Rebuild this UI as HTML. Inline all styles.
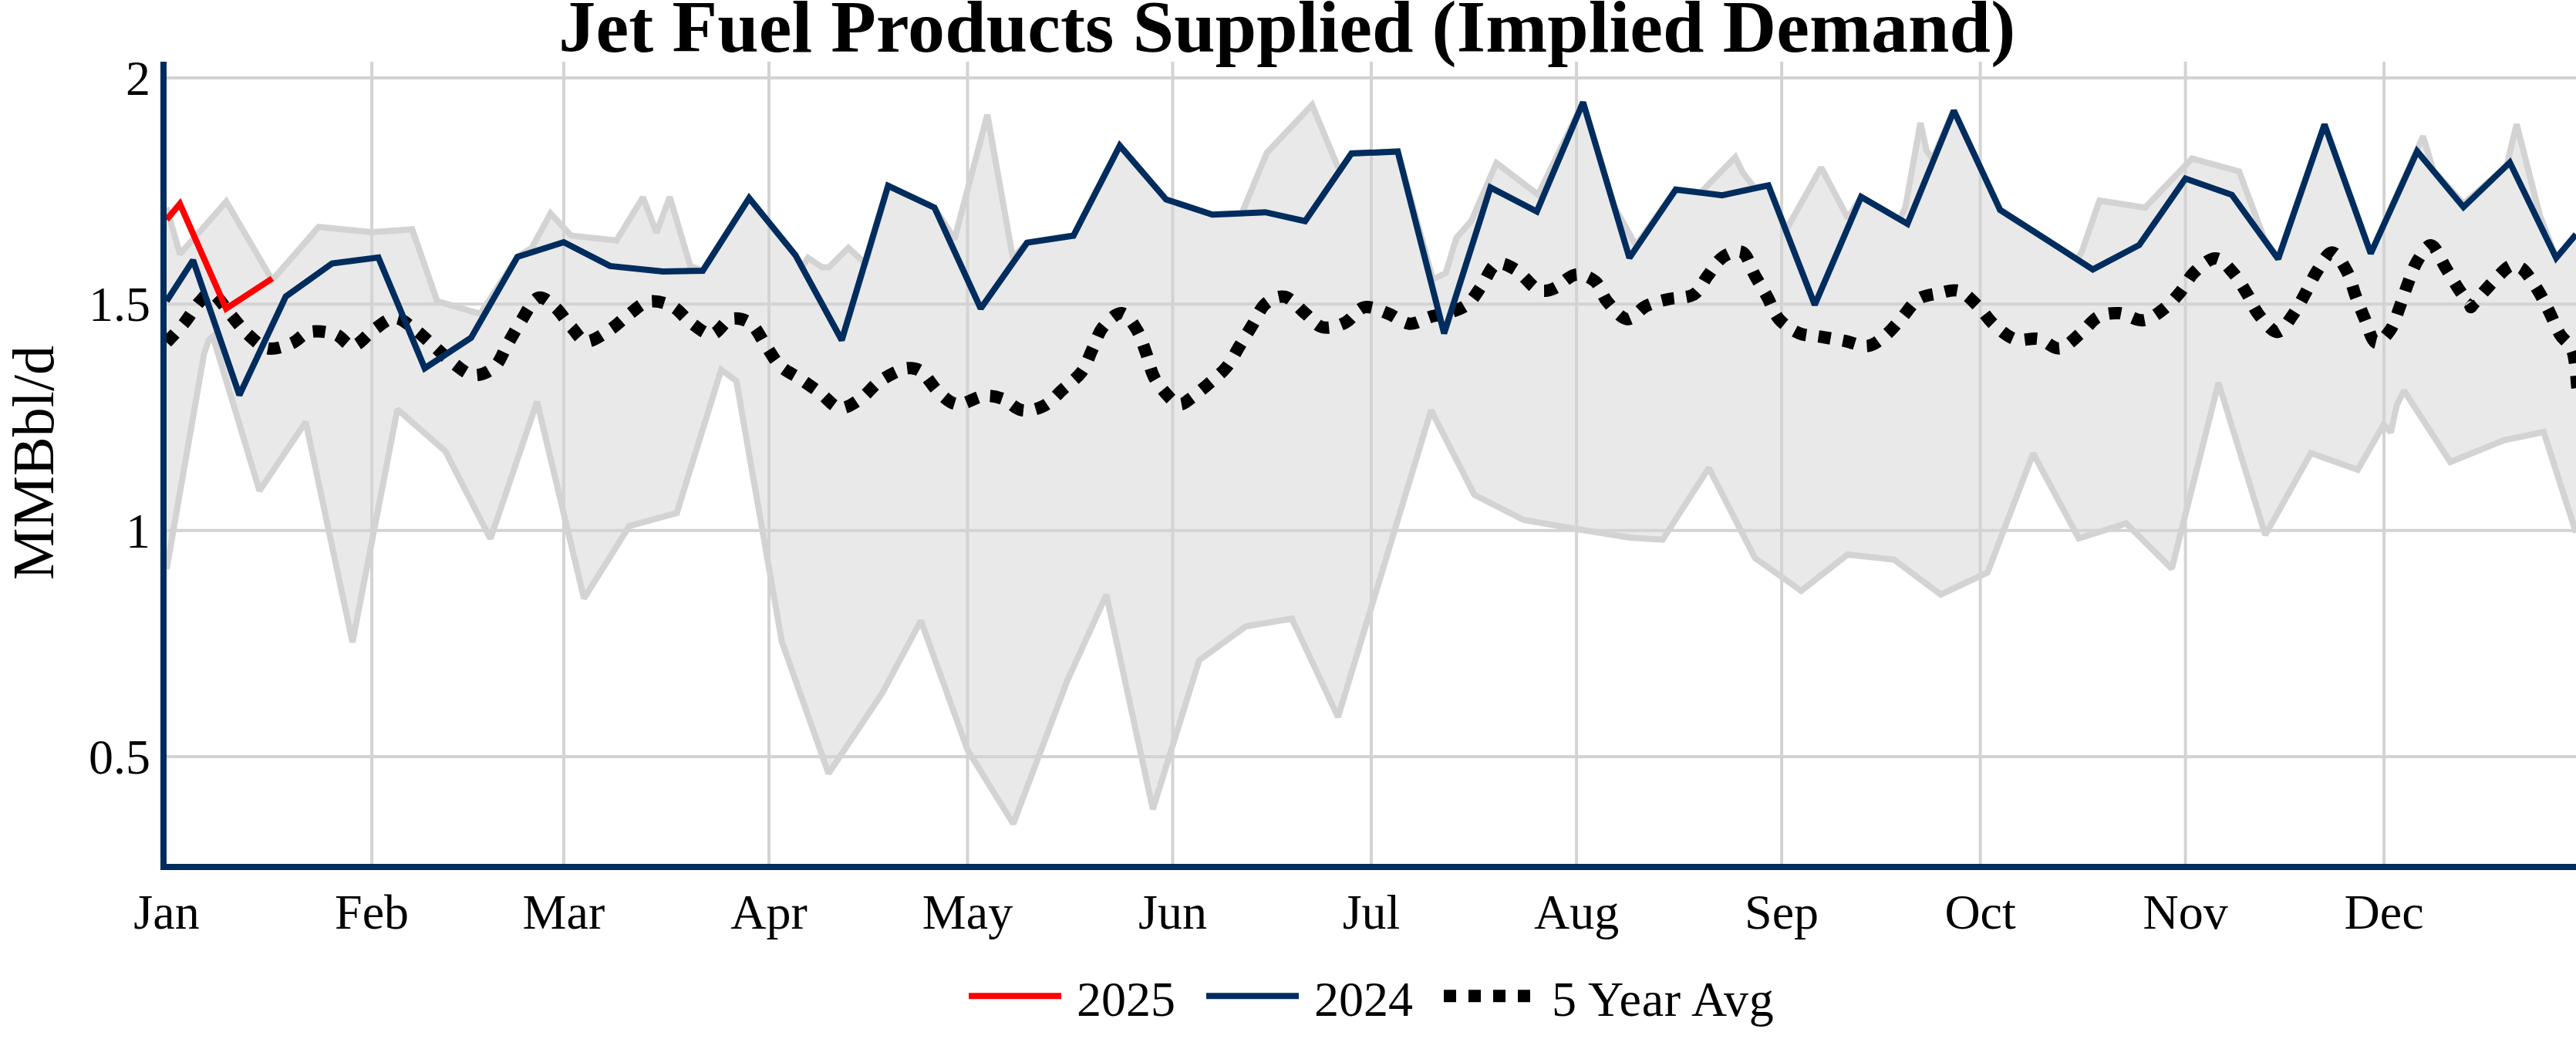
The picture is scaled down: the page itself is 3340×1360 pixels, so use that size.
<!DOCTYPE html>
<html lang="en"><head><meta charset="utf-8"><title>Jet Fuel Products Supplied (Implied Demand)</title>
<style>
html,body{margin:0;padding:0;background:#fff;}
svg{display:block;}
text{font-family:"Liberation Serif","Times New Roman",Times,serif;fill:#000;}
.ln{fill:none;stroke-width:8;stroke-linejoin:miter;stroke-miterlimit:2;}
</style></head><body>
<svg width="3340" height="1360" viewBox="0 0 3340 1360">
<rect width="3340" height="1360" fill="#fff"/>
<defs><clipPath id="plot"><rect x="216" y="80" width="3124" height="1040"/></clipPath></defs>

<g stroke="#d3d3d3" stroke-width="4" fill="none">
<path d="M482.1,80V1120"/>
<path d="M730.9,80V1120"/>
<path d="M997.0,80V1120"/>
<path d="M1254.5,80V1120"/>
<path d="M1520.5,80V1120"/>
<path d="M1778.0,80V1120"/>
<path d="M2044.1,80V1120"/>
<path d="M2310.1,80V1120"/>
<path d="M2567.6,80V1120"/>
<path d="M2833.6,80V1120"/>
<path d="M3091.1,80V1120"/>
<path d="M216,101H3340"/>
<path d="M216,394.3H3340"/>
<path d="M216,687.7H3340"/>
<path d="M216,981H3340"/>
</g>
<g clip-path="url(#plot)">
<path d="M216.0,269.0 L233.3,329.4 L293.4,261.3 L353.0,363.2 L413.1,294.3 L481.9,301.0 L534.4,297.3 L566.8,390.4 L622.9,407.0 L670.9,333.0 L689.5,321.5 L713.8,276.5 L740.4,305.5 L799.3,311.8 L833.6,255.8 L851.2,301.6 L868.4,255.3 L895.0,345.0 L911.2,351.0 L971.3,256.8 L1031.3,330.7 L1040.0,346.0 L1047.7,334.3 L1066.1,346.5 L1074.6,346.5 L1100.0,321.2 L1117.6,337.4 L1122.0,343.0 L1151.5,240.9 L1211.6,269.2 L1237.5,310.0 L1280.2,148.8 L1313.2,334.3 L1331.7,314.6 L1391.8,305.5 L1451.9,188.9 L1511.9,258.5 L1572.0,278.2 L1610.0,277.0 L1642.6,197.9 L1701.2,135.9 L1737.0,222.0 L1752.3,199.0 L1812.3,196.5 L1857.9,362.0 L1874.6,354.0 L1888.2,308.6 L1908.0,285.8 L1940.3,211.3 L1994.4,252.5 L2052.6,132.6 L2093.0,268.0 L2121.0,318.0 L2172.8,245.7 L2205.0,249.5 L2249.9,203.8 L2259.6,223.7 L2274.8,243.4 L2292.9,240.4 L2316.0,298.0 L2361.2,217.1 L2396.0,282.8 L2413.1,255.2 L2463.0,284.5 L2470.5,268.5 L2490.0,159.3 L2497.9,194.9 L2505.5,206.0 L2533.3,143.4 L2593.3,272.2 L2653.4,310.7 L2693.0,336.0 L2699.0,327.0 L2722.2,260.0 L2781.3,269.2 L2842.0,205.5 L2903.2,222.2 L2936.0,310.0 L2953.8,335.6 L3013.9,161.3 L3073.9,328.7 L3131.0,200.0 L3141.8,176.6 L3155.0,221.0 L3194.2,264.0 L3250.0,215.5 L3263.0,161.0 L3293.3,279.7 L3314.3,334.5 L3340.0,303.9 L3340.0,690.4 L3298.0,560.0 L3246.4,570.8 L3177.0,599.0 L3117.0,506.5 L3107.5,525.5 L3100.0,560.5 L3090.6,550.5 L3057.0,609.0 L2996.3,587.5 L2937.2,693.6 L2876.5,496.3 L2815.9,737.3 L2756.8,678.6 L2695.3,698.0 L2636.2,587.8 L2577.0,742.2 L2516.4,770.9 L2455.8,725.6 L2395.5,719.0 L2335.4,766.0 L2275.4,723.4 L2215.6,606.7 L2155.7,699.7 L2113.2,697.0 L2042.0,685.5 L1975.3,674.0 L1911.6,641.5 L1855.5,531.9 L1734.9,929.6 L1675.0,802.0 L1615.4,812.1 L1554.8,856.1 L1494.8,1049.1 L1434.5,771.1 L1383.5,883.4 L1313.8,1068.0 L1254.7,972.8 L1194.0,804.6 L1144.0,898.5 L1074.3,1002.8 L1013.7,831.9 L954.8,494.0 L935.1,479.4 L877.5,665.2 L816.0,681.9 L757.2,775.9 L696.3,520.8 L635.9,698.5 L577.4,584.9 L515.3,530.7 L457.0,832.7 L396.4,547.0 L336.4,636.2 L276.0,436.0 L270.5,441.0 L264.5,459.0 L216.0,738.0Z" fill="rgb(211,211,211)" fill-opacity="0.5" stroke="none"/>
<path class="ln" d="M216.0,269.0 L233.3,329.4 L293.4,261.3 L353.0,363.2 L413.1,294.3 L481.9,301.0 L534.4,297.3 L566.8,390.4 L622.9,407.0 L670.9,333.0 L689.5,321.5 L713.8,276.5 L740.4,305.5 L799.3,311.8 L833.6,255.8 L851.2,301.6 L868.4,255.3 L895.0,345.0 L911.2,351.0 L971.3,256.8 L1031.3,330.7 L1040.0,346.0 L1047.7,334.3 L1066.1,346.5 L1074.6,346.5 L1100.0,321.2 L1117.6,337.4 L1122.0,343.0 L1151.5,240.9 L1211.6,269.2 L1237.5,310.0 L1280.2,148.8 L1313.2,334.3 L1331.7,314.6 L1391.8,305.5 L1451.9,188.9 L1511.9,258.5 L1572.0,278.2 L1610.0,277.0 L1642.6,197.9 L1701.2,135.9 L1737.0,222.0 L1752.3,199.0 L1812.3,196.5 L1857.9,362.0 L1874.6,354.0 L1888.2,308.6 L1908.0,285.8 L1940.3,211.3 L1994.4,252.5 L2052.6,132.6 L2093.0,268.0 L2121.0,318.0 L2172.8,245.7 L2205.0,249.5 L2249.9,203.8 L2259.6,223.7 L2274.8,243.4 L2292.9,240.4 L2316.0,298.0 L2361.2,217.1 L2396.0,282.8 L2413.1,255.2 L2463.0,284.5 L2470.5,268.5 L2490.0,159.3 L2497.9,194.9 L2505.5,206.0 L2533.3,143.4 L2593.3,272.2 L2653.4,310.7 L2693.0,336.0 L2699.0,327.0 L2722.2,260.0 L2781.3,269.2 L2842.0,205.5 L2903.2,222.2 L2936.0,310.0 L2953.8,335.6 L3013.9,161.3 L3073.9,328.7 L3131.0,200.0 L3141.8,176.6 L3155.0,221.0 L3194.2,264.0 L3250.0,215.5 L3263.0,161.0 L3293.3,279.7 L3314.3,334.5 L3340.0,303.9" stroke="#d3d3d3"/>
<path class="ln" d="M216.0,738.0 L264.5,459.0 L270.5,441.0 L276.0,436.0 L336.4,636.2 L396.4,547.0 L457.0,832.7 L515.3,530.7 L577.4,584.9 L635.9,698.5 L696.3,520.8 L757.2,775.9 L816.0,681.9 L877.5,665.2 L935.1,479.4 L954.8,494.0 L1013.7,831.9 L1074.3,1002.8 L1144.0,898.5 L1194.0,804.6 L1254.7,972.8 L1313.8,1068.0 L1383.5,883.4 L1434.5,771.1 L1494.8,1049.1 L1554.8,856.1 L1615.4,812.1 L1675.0,802.0 L1734.9,929.6 L1855.5,531.9 L1911.6,641.5 L1975.3,674.0 L2042.0,685.5 L2113.2,697.0 L2155.7,699.7 L2215.6,606.7 L2275.4,723.4 L2335.4,766.0 L2395.5,719.0 L2455.8,725.6 L2516.4,770.9 L2577.0,742.2 L2636.2,587.8 L2695.3,698.0 L2756.8,678.6 L2815.9,737.3 L2876.5,496.3 L2937.2,693.6 L2996.3,587.5 L3057.0,609.0 L3090.6,550.5 L3100.0,560.5 L3107.5,525.5 L3117.0,506.5 L3177.0,599.0 L3246.4,570.8 L3298.0,560.0 L3340.0,690.4" stroke="#d3d3d3"/>
<path d="M216.0,444.0 C219.9,439.7 232.2,427.0 239.4,418.2 C246.6,409.4 253.0,397.3 259.1,391.0 C265.2,384.7 269.0,377.3 275.8,380.3 C282.6,383.3 292.4,400.2 300.0,409.1 C307.6,418.0 313.5,426.3 321.3,433.4 C329.1,440.5 337.7,449.6 347.0,451.6 C356.3,453.6 368.2,449.0 377.3,445.5 C386.4,442.0 392.0,432.4 401.6,430.4 C411.2,428.4 425.5,430.4 434.9,433.4 C444.2,436.4 449.3,449.5 457.7,448.5 C466.1,447.5 475.9,433.4 485.0,427.3 C494.1,421.2 503.4,412.2 512.2,412.2 C521.0,412.2 529.6,421.2 538.0,427.3 C546.4,433.4 554.2,441.4 562.3,448.5 C570.4,455.6 577.9,463.5 586.5,469.8 C595.1,476.1 604.7,485.4 613.8,486.4 C622.9,487.4 633.8,482.4 641.1,475.8 C648.4,469.2 652.2,456.6 657.8,447.0 C663.3,437.4 667.9,428.3 674.4,418.2 C680.9,408.1 689.4,389.7 697.0,386.4 C704.6,383.1 712.5,392.2 719.9,398.5 C727.2,404.8 734.3,417.0 741.1,424.3 C747.9,431.6 752.5,442.0 760.8,442.5 C769.1,443.0 782.0,433.1 791.1,427.3 C800.2,421.5 807.0,413.7 815.4,407.6 C823.8,401.6 831.9,392.8 841.2,391.0 C850.6,389.2 862.4,392.5 871.5,397.0 C880.6,401.5 887.1,412.1 895.7,418.2 C904.3,424.3 914.4,434.1 923.0,433.4 C931.6,432.6 938.9,416.0 947.3,413.7 C955.7,411.4 965.9,413.9 973.6,419.7 C981.3,425.5 987.0,439.4 993.3,448.5 C999.6,457.6 1004.2,467.2 1011.5,474.3 C1018.8,481.4 1028.7,485.2 1037.3,491.0 C1045.9,496.8 1054.5,502.9 1063.1,509.2 C1071.7,515.5 1080.0,527.6 1088.8,528.9 C1097.6,530.2 1107.8,522.4 1116.1,516.8 C1124.4,511.2 1130.6,501.6 1138.9,495.5 C1147.2,489.4 1159.0,483.4 1166.1,480.4 C1173.2,477.4 1176.2,476.8 1181.3,477.3 C1186.4,477.8 1190.4,478.1 1196.5,483.4 C1202.6,488.7 1210.1,502.4 1217.7,509.2 C1225.3,516.0 1232.6,523.5 1241.9,524.3 C1251.2,525.0 1264.2,515.0 1273.8,513.7 C1283.4,512.5 1290.9,513.8 1299.5,516.8 C1308.1,519.8 1316.2,530.4 1325.3,531.9 C1334.4,533.4 1345.3,530.3 1354.1,525.8 C1362.9,521.2 1370.2,511.9 1378.3,504.6 C1386.4,497.3 1396.3,490.5 1402.6,481.9 C1408.9,473.3 1411.7,462.7 1416.2,453.1 C1420.8,443.5 1423.6,432.1 1429.9,424.3 C1436.2,416.5 1446.8,405.6 1454.1,406.1 C1461.4,406.6 1468.5,418.7 1473.8,427.3 C1479.1,435.9 1482.2,447.2 1486.0,457.6 C1489.8,468.0 1491.5,479.9 1496.6,489.5 C1501.6,499.1 1510.8,509.4 1516.3,515.2 C1521.8,521.0 1525.4,524.0 1529.9,524.3 C1534.5,524.6 1537.3,521.3 1543.6,516.8 C1549.9,512.2 1560.0,503.8 1567.8,497.0 C1575.6,490.2 1583.9,483.9 1590.5,475.8 C1597.1,467.7 1601.6,457.6 1607.2,448.5 C1612.8,439.4 1618.3,430.4 1623.9,421.3 C1629.5,412.2 1633.5,400.1 1640.6,394.0 C1647.7,387.9 1657.7,382.9 1666.3,384.9 C1674.9,386.9 1684.0,399.5 1692.1,406.1 C1700.2,412.7 1706.1,422.3 1714.8,424.3 C1723.5,426.3 1735.3,422.5 1744.3,418.2 C1753.2,413.9 1759.4,400.5 1768.5,398.5 C1777.6,396.5 1789.0,402.6 1798.8,406.1 C1808.6,409.6 1818.2,418.9 1827.6,419.7 C1836.9,420.5 1846.2,413.1 1854.9,410.7 C1863.6,408.2 1871.9,407.8 1880.0,405.0 C1888.1,402.2 1896.5,399.9 1903.4,394.0 C1910.3,388.1 1915.5,378.3 1921.6,369.7 C1927.7,361.1 1932.5,345.7 1939.8,342.4 C1947.1,339.1 1957.3,344.9 1965.6,350.0 C1973.9,355.1 1983.6,368.3 1989.8,372.8 C1996.0,377.3 1998.5,377.0 2003.0,377.0 C2007.5,377.0 2010.4,376.3 2017.1,372.8 C2023.8,369.3 2034.3,357.4 2042.9,356.1 C2051.5,354.8 2061.8,359.4 2068.6,365.2 C2075.4,371.0 2077.0,382.8 2083.8,390.9 C2090.6,399.0 2101.2,412.7 2109.5,413.7 C2117.8,414.7 2125.0,401.3 2133.8,397.0 C2142.7,392.7 2152.2,390.4 2162.6,387.9 C2173.0,385.4 2187.4,386.9 2196.0,381.9 C2204.6,376.8 2207.8,365.7 2214.1,357.6 C2220.4,349.5 2226.2,338.4 2233.8,333.3 C2241.4,328.2 2252.8,323.5 2259.6,327.3 C2266.4,331.1 2269.5,346.5 2274.8,356.1 C2280.1,365.7 2286.1,375.3 2291.4,384.9 C2296.7,394.5 2299.8,405.9 2306.6,413.7 C2313.4,421.5 2323.6,428.1 2332.4,431.9 C2341.2,435.7 2349.8,434.7 2359.6,436.4 C2369.4,438.1 2381.1,439.9 2391.5,441.9 C2401.9,443.9 2413.0,449.7 2421.8,448.5 C2430.6,447.3 2437.2,440.9 2444.5,434.9 C2451.8,428.8 2458.7,420.0 2465.8,412.2 C2472.9,404.4 2479.1,393.2 2487.0,387.9 C2494.9,382.6 2504.1,382.1 2513.0,380.3 C2521.9,378.5 2531.7,374.5 2540.3,377.3 C2548.9,380.1 2557.0,389.7 2564.6,397.0 C2572.2,404.3 2577.7,414.1 2585.8,421.3 C2593.9,428.5 2603.5,437.0 2613.1,440.0 C2622.7,443.0 2633.8,437.5 2643.4,439.4 C2653.0,441.3 2661.6,452.9 2670.7,451.6 C2679.8,450.4 2689.7,438.7 2698.0,431.9 C2706.3,425.1 2712.4,415.0 2720.7,410.7 C2729.0,406.4 2738.4,405.4 2748.0,406.1 C2757.6,406.9 2769.0,415.9 2778.3,415.2 C2787.7,414.4 2796.0,407.7 2804.1,401.6 C2812.2,395.5 2820.0,386.9 2826.8,378.8 C2833.6,370.7 2837.4,360.4 2845.0,353.1 C2852.6,345.8 2864.0,334.9 2872.3,334.9 C2880.6,334.9 2888.2,345.5 2895.0,353.1 C2901.8,360.7 2907.6,371.2 2913.2,380.3 C2918.8,389.4 2921.8,399.2 2928.4,407.6 C2935.0,416.0 2945.3,430.1 2952.6,430.4 C2959.9,430.6 2966.2,417.5 2972.3,409.1 C2978.4,400.8 2983.7,389.9 2989.0,380.3 C2994.3,370.7 2998.4,360.3 3004.2,351.5 C3010.0,342.7 3017.3,327.0 3023.9,327.3 C3030.5,327.6 3038.6,343.8 3043.6,353.1 C3048.6,362.5 3050.4,373.3 3054.2,383.4 C3058.0,393.5 3062.0,403.6 3066.3,413.7 C3070.6,423.8 3074.4,441.7 3079.9,444.0 C3085.4,446.3 3094.3,435.1 3099.6,427.3 C3104.9,419.5 3108.0,407.1 3111.8,397.0 C3115.6,386.9 3118.6,376.6 3122.4,366.7 C3126.2,356.8 3129.4,346.0 3134.5,337.9 C3139.6,329.8 3146.6,316.7 3152.7,318.2 C3158.8,319.7 3165.1,337.6 3170.9,347.0 C3176.7,356.4 3182.3,366.2 3187.6,374.3 C3192.9,382.4 3199.8,391.6 3202.6,395.5 C3205.4,399.4 3203.7,397.5 3204.2,397.5 C3204.7,397.5 3201.8,400.1 3205.8,395.5 C3209.8,390.9 3220.7,377.8 3228.2,369.7 C3235.7,361.6 3245.6,351.0 3250.9,347.0 C3256.2,343.0 3256.5,345.0 3260.0,345.5 C3263.5,346.0 3267.0,344.9 3272.1,350.0 C3277.2,355.1 3284.7,366.7 3290.3,375.8 C3295.9,384.9 3300.7,394.9 3305.5,404.5 C3310.3,414.1 3314.0,424.7 3319.1,433.3 C3324.2,441.9 3332.0,444.1 3335.8,456.0 C3339.6,467.9 3341.0,496.8 3342.0,505.0" fill="none" stroke="#000" stroke-width="16" stroke-dasharray="16,16"/>
<path class="ln" d="M216.0,390.4 L250.3,337.3 L310.4,512.2 L370.5,384.5 L430.6,341.5 L490.6,333.9 L550.7,477.4 L610.8,437.9 L670.9,333.0 L730.9,314.0 L791.0,344.9 L859.6,352.0 L911.2,351.0 L971.3,256.8 L1031.3,330.7 L1091.4,441.0 L1151.5,240.9 L1211.6,269.2 L1271.6,400.0 L1331.7,314.6 L1391.8,305.5 L1451.9,188.9 L1511.9,258.5 L1572.0,278.2 L1640.6,275.2 L1692.2,286.7 L1752.3,199.0 L1812.3,196.5 L1872.4,432.3 L1932.5,243.1 L1992.6,274.2 L2052.6,132.6 L2112.7,334.3 L2172.8,245.7 L2232.9,253.1 L2292.9,240.4 L2353.0,395.2 L2413.1,255.2 L2473.2,290.2 L2533.3,143.4 L2593.3,272.2 L2653.4,310.7 L2713.5,349.4 L2773.6,317.7 L2833.6,231.5 L2893.7,252.5 L2953.8,335.6 L3013.9,161.3 L3073.9,328.7 L3134.0,196.3 L3194.1,268.5 L3254.2,210.6 L3314.3,334.5 L3340.0,303.9" stroke="#002c5e"/>
<path class="ln" d="M216.0,284.6 L233.2,264.3 L293.2,400.1 L353.0,361.0" stroke="#ff0000"/>
</g>
<path d="M212,80V1128" stroke="#002c5e" stroke-width="8" fill="none"/>
<path d="M208,1124H3340" stroke="#002c5e" stroke-width="8" fill="none"/>
<g font-size="64" text-anchor="middle">
<text x="216.0" y="1204">Jan</text>
<text x="482.1" y="1204">Feb</text>
<text x="730.9" y="1204">Mar</text>
<text x="997.0" y="1204">Apr</text>
<text x="1254.5" y="1204">May</text>
<text x="1520.5" y="1204">Jun</text>
<text x="1778.0" y="1204">Jul</text>
<text x="2044.1" y="1204">Aug</text>
<text x="2310.1" y="1204">Sep</text>
<text x="2567.6" y="1204">Oct</text>
<text x="2833.6" y="1204">Nov</text>
<text x="3091.1" y="1204">Dec</text>
</g>
<g font-size="64" text-anchor="end">
<text x="195" y="123.0">2</text>
<text x="195" y="416.3">1.5</text>
<text x="195" y="709.7">1</text>
<text x="195" y="1003.0">0.5</text>
</g>
<text font-size="76" text-anchor="middle" transform="translate(68.5,600) rotate(-90)">MMBbl/d</text>
<text font-size="96" font-weight="bold" text-anchor="middle" letter-spacing="0.12" x="1668.8" y="67">Jet Fuel Products Supplied (Implied Demand)</text>
<g font-size="64">
<path d="M1256,1291.3H1376" stroke="#ff0000" stroke-width="8"/><text x="1396" y="1317">2025</text>
<path d="M1564,1291.3H1684" stroke="#002c5e" stroke-width="8"/><text x="1704" y="1317">2024</text>
<path d="M1872,1291.3H1992" stroke="#000" stroke-width="16" stroke-dasharray="16,16"/><text x="2012" y="1317" letter-spacing="0.7">5 Year Avg</text>
</g>
</svg></body></html>
